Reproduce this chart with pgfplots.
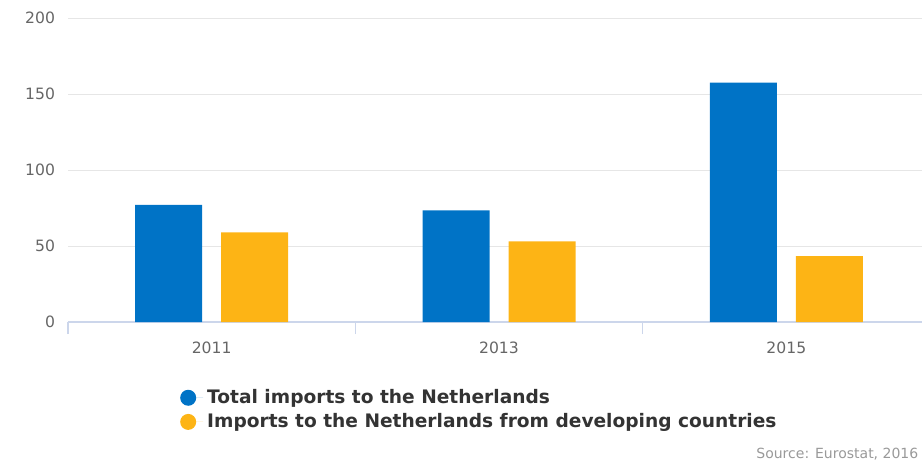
\documentclass[border=0pt]{standalone}
\usepackage{pgfplots}
\pgfplotsset{compat=1.18}
\usepackage{fontspec}
\setmainfont{DejaVu Sans}
\definecolor{barblue}{RGB}{0,115,198}
\definecolor{barorange}{RGB}{253,180,21}
\definecolor{gridc}{RGB}{230,230,230}
\definecolor{axisc}{RGB}{204,214,235}
\definecolor{tickc}{RGB}{102,102,102}
\definecolor{legc}{RGB}{51,51,51}
\definecolor{srcc}{RGB}{153,153,153}
\begin{document}
\begin{tikzpicture}
\useasboundingbox (0,0) rectangle (461pt,231pt);
\begin{axis}[
  at={(34pt,70pt)}, anchor=south west,
  scale only axis, width=431pt, height=152pt,
  xmin=-0.5, xmax=2.5, ymin=0, ymax=200,
  ybar=9.5pt, bar width=33.5pt,
  xtick=data, xticklabels={2011,2013,2015},
  major tick length=0pt,
  extra x ticks={-0.5,0.5,1.5,2.5}, extra x tick labels={},
  extra x tick style={grid=none, major tick length=6pt},
  xtick style={draw=axisc, line width=0.6pt},
  ytick={0,50,100,150,200},
  ytick style={draw=none},
  ymajorgrids, grid style={draw=gridc, line width=0.5pt},
  axis x line*=bottom, axis y line*=left,
  y axis line style={draw=none},
  x axis line style={draw=axisc, line width=0.6pt},
  tick align=outside,
  /pgf/number format/assume math mode=true,
  tick label style={font=\fontsize{7.8}{9}\selectfont, text=tickc},
  yticklabel style={xshift=-3pt},
  xticklabel style={yshift=-6.5pt},
  legend style={at={(0.1297,-0.2066)}, anchor=north west, draw=none, fill=none,
    font=\fontsize{9.3}{11}\selectfont\bfseries, text=legc,
    legend cell align=left, row sep=-0.5pt, inner sep=0pt},
  legend image code/.code={\fill[#1,draw=none] (0pt,0pt) circle (4pt); \path (-4pt,0pt) -- (7.5pt,0pt);},
]
\addplot[fill=barblue, draw=none] coordinates {(0,77) (1,73.5) (2,157.5)};
\addplot[fill=barorange, draw=none] coordinates {(0,59) (1,53) (2,43.3)};
\legend{Total imports to the Netherlands, Imports to the Netherlands from developing countries}
\end{axis}
\node[anchor=base west, inner sep=0pt, text=srcc, font=\fontsize{7}{8}\selectfont] at (378pt,2pt) {Source: Eurostat, 2016};
\end{tikzpicture}
\end{document}
